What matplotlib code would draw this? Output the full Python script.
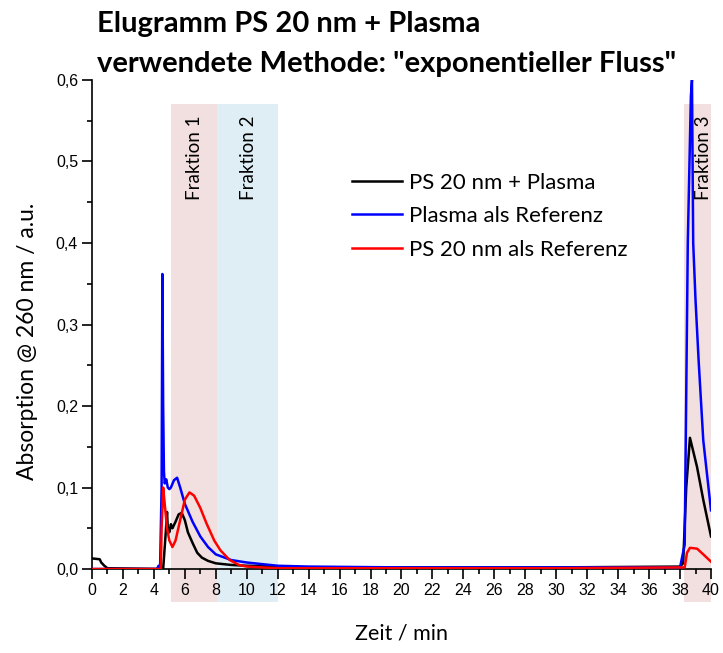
import matplotlib.pyplot as plt
from matplotlib.patches import Rectangle
from matplotlib.ticker import MultipleLocator, FuncFormatter

# Chromatogram traces (time in min, absorption in a.u.)
t_mix = [0, 0.5, 0.6, 0.8, 1.0, 4.6, 4.75, 4.85, 4.9, 5.0, 5.1, 5.2, 5.4, 5.6, 5.8,
         6.0, 6.2, 6.5, 6.8, 7.1, 7.5, 8.0, 9.0, 10, 12, 14, 20, 30, 38.0, 38.2,
         38.4, 38.64, 39.1, 39.5, 40]
y_mix = [0.013, 0.012, 0.008, 0.004, 0.001, 0.0, 0.04, 0.07, 0.05, 0.045, 0.055,
         0.05, 0.058, 0.067, 0.069, 0.06, 0.045, 0.032, 0.02, 0.014, 0.01, 0.007,
         0.005, 0.004, 0.003, 0.002, 0.002, 0.002, 0.003, 0.007, 0.1, 0.161, 0.125,
         0.085, 0.04]

t_plasma = [0, 4.2, 4.3, 4.4, 4.5, 4.55, 4.6, 4.65, 4.7, 4.8, 4.9, 5.0, 5.1, 5.3,
            5.5, 5.7, 6.0, 6.5, 7.0, 7.5, 8.0, 9.0, 10, 11, 12, 14, 20, 30, 38.0,
            38.3, 38.5, 38.7, 38.77, 38.85, 39.0, 39.2, 39.5, 40]
y_plasma = [0.0, 0.0, 0.004, 0.0, 0.1, 0.362, 0.2, 0.12, 0.105, 0.11, 0.1, 0.098,
            0.1, 0.109, 0.112, 0.1, 0.08, 0.058, 0.04, 0.027, 0.018, 0.011, 0.008,
            0.006, 0.004, 0.003, 0.002, 0.002, 0.002, 0.03, 0.4, 0.58, 0.6, 0.4,
            0.33, 0.256, 0.158, 0.072]

t_ps = [0, 4.45, 4.5, 4.6, 4.7, 4.85, 5.0, 5.2, 5.4, 5.7, 6.0, 6.3, 6.6, 7.0, 7.4,
        7.9, 8.3, 8.9, 9.5, 10, 12, 20, 30, 38.3, 38.45, 38.64, 39.1, 39.5, 40]
y_ps = [0, 0, 0.05, 0.1, 0.08, 0.05, 0.035, 0.027, 0.035, 0.06, 0.085, 0.094, 0.09,
        0.075, 0.056, 0.035, 0.023, 0.011, 0.005, 0.003, 0.001, 0.001, 0.001, 0.002,
        0.02, 0.026, 0.025, 0.018, 0.009]

series_labels = ['PS 20 nm + Plasma', 'Plasma als Referenz', 'PS 20 nm als Referenz']
series_colors = ['black', '#0000ff', '#ff0000']

# fraction windows (start, end, label, label position, colour)
fractions = [(5.1, 8.1, 'Fraktion 1', 6.65, '#f2dfdf'),
             (8.1, 12.0, 'Fraktion 2', 10.1, '#deeef4'),
             (38.25, 40.0, 'Fraktion 3', 39.5, '#f2dfdf')]

fig = plt.figure(figsize=(7.23, 6.53), dpi=100)
ax = fig.add_axes([0.1272, 0.1286, 0.8562, 0.7489])

# shaded fractions reach from below the tick labels up to ~0.57
for x0, x1, name, xt, col in fractions:
    ax.add_patch(Rectangle((x0, -0.04), x1 - x0, 0.61, facecolor=col,
                           edgecolor='none', zorder=0, clip_on=False))
    ax.text(xt, 0.556, name, rotation=90, ha='center', va='top',
            fontsize=13.5, family='Lato', zorder=1)

for t, y, lab, col in zip([t_mix, t_plasma, t_ps], [y_mix, y_plasma, y_ps],
                          series_labels, series_colors):
    ax.plot(t, y, color=col, lw=1.8, label=lab, zorder=3)

ax.set_xlim(0, 40)
ax.set_ylim(0, 0.6)
ax.xaxis.set_major_locator(MultipleLocator(2))
ax.xaxis.set_minor_locator(MultipleLocator(1))
ax.yaxis.set_major_locator(MultipleLocator(0.1))
ax.yaxis.set_minor_locator(MultipleLocator(0.05))
ax.yaxis.set_major_formatter(FuncFormatter(lambda v, p: f'{v:.1f}'.replace('.', ',')))
ax.tick_params(which='major', direction='out', length=7, width=1.2,
               labelsize=11.5, pad=3)
ax.tick_params(which='minor', direction='out', length=3.5, width=1.2)
for lbl in ax.get_xticklabels() + ax.get_yticklabels():
    lbl.set_family('Liberation Sans')
for side in ['top', 'right']:
    ax.spines[side].set_visible(False)
for side in ['left', 'bottom']:
    ax.spines[side].set_linewidth(1.2)
ax.patch.set_alpha(0)

ax.set_xlabel('Zeit / min', fontsize=15.5, family='Lato')
ax.xaxis.set_label_coords(0.5, -0.112)
ax.set_ylabel('Absorption @ 260 nm / a.u.', fontsize=16.5, family='Lato')
ax.yaxis.set_label_coords(-0.087, 0.466)

ax.legend(loc='upper left', bbox_to_anchor=(0.42, 0.81), frameon=False,
          prop={'family': 'Lato', 'size': 16}, handlelength=2.25,
          handletextpad=0.3, labelspacing=0.6, borderpad=0, borderaxespad=0)

fig.text(0.134, 0.963, 'Elugramm PS 20 nm + Plasma', fontsize=21,
         fontweight='bold', family='Lato', va='center')
fig.text(0.134, 0.902, 'verwendete Methode: "exponentieller Fluss"', fontsize=21,
         fontweight='bold', family='Lato', va='center')

fig.savefig('out.png', dpi=100)
